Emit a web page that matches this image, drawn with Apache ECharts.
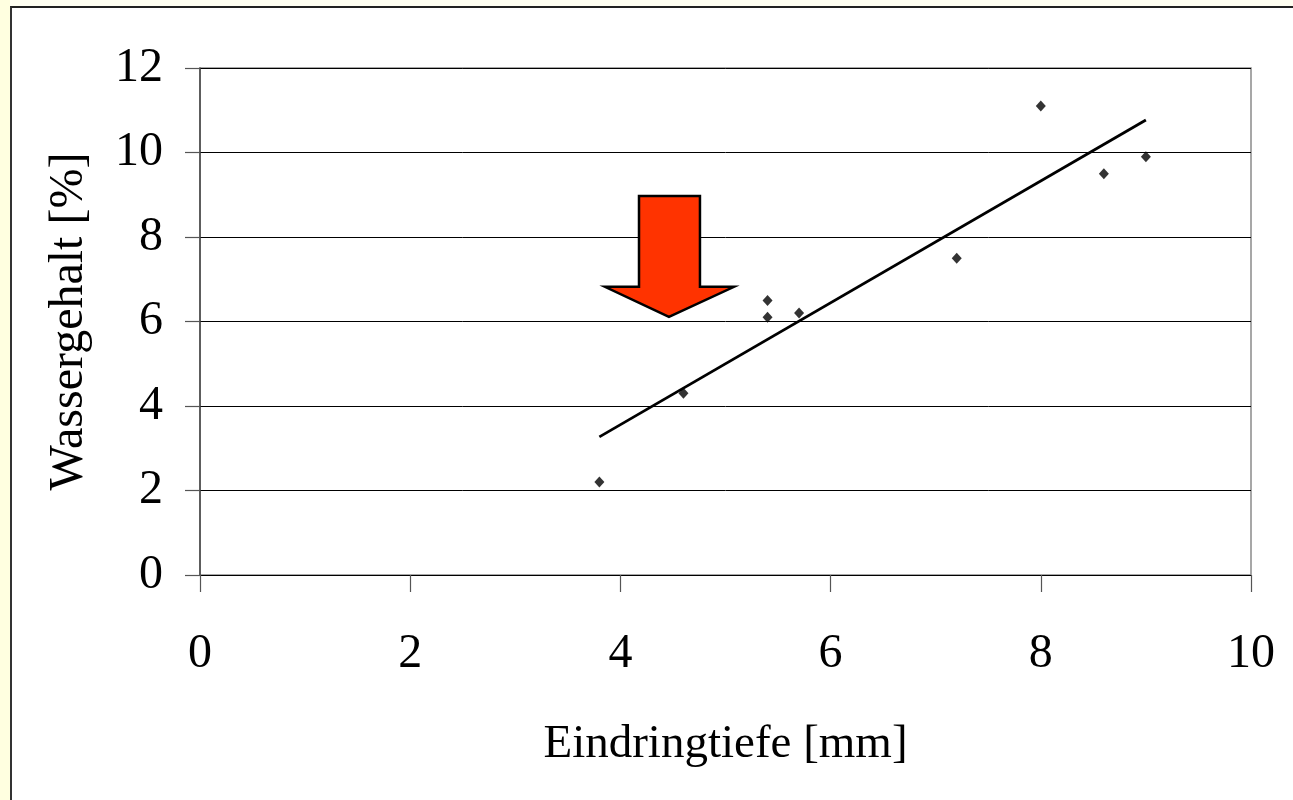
<!DOCTYPE html>
<html>
<head>
<meta charset="utf-8">
<script src="https://cdn.jsdelivr.net/npm/echarts@6/dist/echarts.min.js"></script>
<style>
  html, body { margin: 0; padding: 0; background: #fffff2; }
  #strip { position: absolute; left: 0; top: 0; width: 10px; height: 800px; background: #ffffe0; }
  #frame { position: absolute; left: 10px; top: 6px; width: 1300px; height: 820px; background: #fff;
           border-left: 2px solid #333; border-top: 2px solid #222; }
  #chart { position: absolute; left: 0; top: 0; width: 1293px; height: 800px; }
</style>
</head>
<body>
<div id="strip"></div>
<div id="frame"></div>
<div id="chart"></div>
<script>
// Eindringtiefe [mm]
const depth = [3.8, 4.6, 5.4, 5.4, 5.7, 7.2, 8.0, 8.6, 9.0];
// Wassergehalt [%]
const water = [2.2, 4.3, 6.5, 6.1, 6.2, 7.5, 11.1, 9.5, 9.9];
// linear trend line end points
const trendX = [3.8, 9.0];
const trendY = [3.27, 10.77];
// axis ticks
const xTicks = [0, 2, 4, 6, 8, 10];
const yTicks = [0, 2, 4, 6, 8, 10, 12];
const xName = 'Eindringtiefe [mm]';
const yName = 'Wassergehalt [%]';

// annotation arrow outline, in data units
const arrowShape = [
  [4.177, 8.97], [4.757, 8.97], [4.757, 6.82], [5.081, 6.82],
  [4.462, 6.107], [3.853, 6.82], [4.177, 6.82]
];

const points = depth.map((x, i) => [x, water[i]]);
const trend = trendX.map((x, i) => [x, trendY[i]]);

const font = '"Liberation Serif", "Times New Roman", serif';
const chart = echarts.init(document.getElementById('chart'), null, { renderer: 'canvas' });

chart.setOption({
  backgroundColor: 'transparent',
  animation: false,
  grid: {
    left: 200, right: 42, top: 68, bottom: 225,
    show: true, borderColor: '#8a8a8a', borderWidth: 1.5, backgroundColor: 'transparent'
  },
  xAxis: {
    type: 'value', min: xTicks[0], max: xTicks[xTicks.length - 1], interval: 2,
    name: xName, nameLocation: 'middle', nameGap: 146,
    nameTextStyle: { fontFamily: font, fontSize: 47, color: '#000' },
    axisLine: { show: true, lineStyle: { color: '#000', width: 1.2 } },
    axisTick: { show: true, inside: false, length: 17, lineStyle: { color: '#555', width: 1.2 } },
    axisLabel: { fontFamily: font, fontSize: 48, color: '#000', margin: 55 },
    splitLine: { show: false }
  },
  yAxis: {
    type: 'value', min: yTicks[0], max: yTicks[yTicks.length - 1], interval: 2,
    name: yName, nameLocation: 'middle', nameGap: 107, nameRotate: 90,
    nameTextStyle: { fontFamily: font, fontSize: 48, color: '#000' },
    axisLine: { show: true, lineStyle: { color: '#444', width: 1.5 } },
    axisTick: { show: true, inside: false, length: 15, lineStyle: { color: '#555', width: 1.2 } },
    axisLabel: { fontFamily: font, fontSize: 48, color: '#000', margin: 37 },
    splitLine: { show: true, lineStyle: { color: '#000', width: 1 } }
  },
  series: [
    {
      type: 'line', data: trend, showSymbol: false, symbol: 'none',
      lineStyle: { color: '#000', width: 2.8 }, z: 3, silent: true
    },
    {
      type: 'scatter', data: points, symbol: 'diamond', symbolSize: [10, 11],
      itemStyle: { color: '#000' }, z: 4, silent: true
    }
  ]
});

const px = arrowShape.map(p => chart.convertToPixel({ gridIndex: 0 }, p));
chart.setOption({
  graphic: [{
    type: 'polygon', z: 10,
    shape: { points: px },
    style: { fill: '#ff3300', stroke: '#000', lineWidth: 2.5, lineJoin: 'miter' }
  }]
});
</script>
</body>
</html>
